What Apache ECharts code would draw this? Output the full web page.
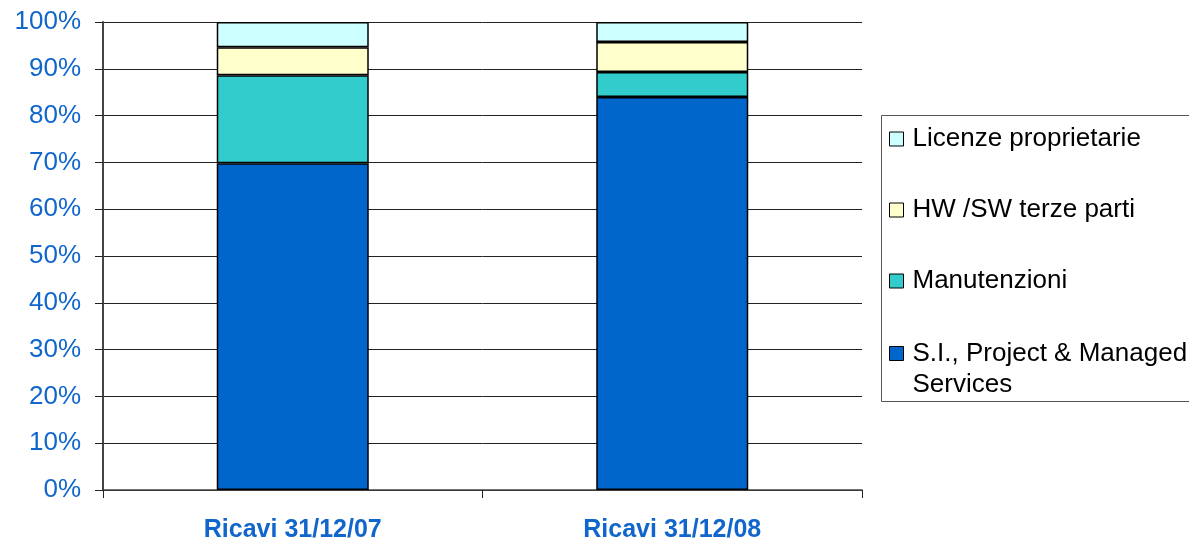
<!DOCTYPE html>
<html>
<head>
<meta charset="utf-8">
<script src="https://cdn.jsdelivr.net/npm/echarts@6/dist/echarts.min.js"></script>
<style>
html,body{margin:0;padding:0;background:#fff;}
#c{width:1189px;height:544px;}
</style>
</head>
<body>
<div id="c"></div>
<script>
const categories = ['Ricavi 31/12/07', 'Ricavi 31/12/08'];
const seriesNames = ['S.I., Project & Managed Services', 'Manutenzioni', 'HW /SW terze parti', 'Licenze proprietarie'];
const siValues = [69.8, 84.0];
const manutenzioniValues = [18.8, 5.3];
const hwswValues = [6.0, 6.4];
const licenzeValues = [5.4, 4.3];
const yTicks = [0, 10, 20, 30, 40, 50, 60, 70, 80, 90, 100];

const colors = ['#0066CC', '#33CCCC', '#FFFFCC', '#CCFFFF'];
const valuesList = [siValues, manutenzioniValues, hwswValues, licenzeValues];
const FONT = '"Liberation Sans", Arial, Helvetica, sans-serif';
const BLUE = '#1166CC';

const chart = echarts.init(document.getElementById('c'), null, {renderer: 'canvas'});
const series = seriesNames.map((name, i) => ({
  name: name,
  type: 'bar',
  stack: 'total',
  barWidth: 152,
  data: valuesList[i],
  itemStyle: {color: colors[i], borderColor: '#000', borderWidth: 1.5},
  emphasis: {disabled: true}
}));

const legendCommon = {
  orient: 'vertical',
  left: 889,
  icon: 'rect',
  itemWidth: 14,
  itemHeight: 14,
  padding: 0,
  selectedMode: false,
  itemStyle: {borderWidth: 1, borderColor: '#000'}
};

chart.setOption({
  animation: false,
  backgroundColor: '#fff',
  grid: {left: 103, right: 327, top: 22, bottom: 54, containLabel: false},
  graphic: [{
    type: 'rect',
    left: 879,
    top: 113,
    shape: {width: 330, height: 286},
    style: {fill: 'none', stroke: '#555', lineWidth: 1},
    silent: true,
    z: 0
  }],
  legend: [
    Object.assign({}, legendCommon, {
      top: 124,
      itemGap: 41,
      data: seriesNames.slice(1).reverse(),
      textStyle: {fontSize: 26, color: '#000', fontFamily: FONT, padding: [0, 0, 0, 4], lineHeight: 30}
    }),
    Object.assign({}, legendCommon, {
      top: 307,
      data: [seriesNames[0]],
      textStyle: {fontSize: 26, color: '#000', fontFamily: FONT, padding: [0, 0, 0, 4], lineHeight: 31},
      formatter: function () { return ' \nS.I., Project & Managed\nServices'; }
    })
  ],
  xAxis: {
    type: 'category',
    data: categories,
    axisLine: {lineStyle: {color: '#444', width: 1.5}},
    axisTick: {show: true, length: 8, lineStyle: {color: '#222'}},
    axisLabel: {fontSize: 25, fontWeight: 'bold', color: BLUE, fontFamily: FONT, margin: 28}
  },
  yAxis: {
    type: 'value',
    min: yTicks[0],
    max: yTicks[yTicks.length - 1],
    interval: 10,
    axisLine: {show: true, lineStyle: {color: '#444', width: 2}},
    axisTick: {show: true, length: 8, lineStyle: {color: '#222'}},
    axisLabel: {fontSize: 26, color: BLUE, fontFamily: FONT, margin: 22, formatter: '{value}%'},
    splitLine: {show: true, lineStyle: {color: '#222', width: 1}}
  },
  series: series
});
</script>
</body>
</html>
